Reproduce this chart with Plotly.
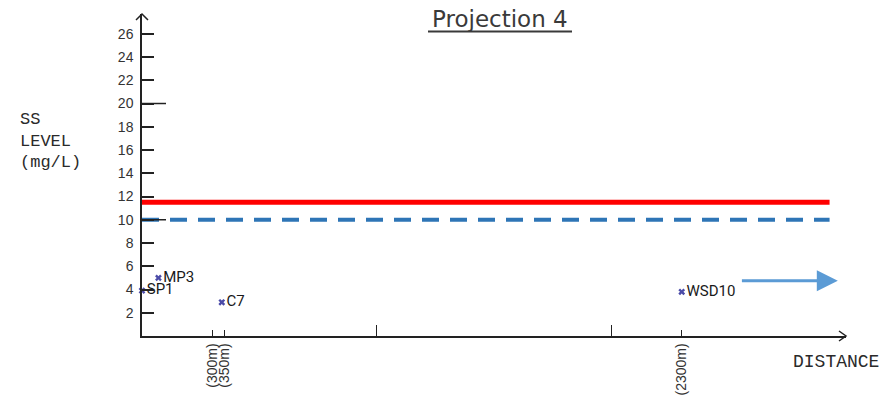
import plotly.graph_objects as go

# ---- data ----
station_names = ["SP1", "MP3", "C7", "WSD10"]
station_distance_m = [0, 70, 340, 2300]
station_ss = [3.9, 5.0, 2.9, 3.8]

red_limit = 11.5          # red solid line level
blue_limit = 10.0         # blue dashed line level
limit_line_end_m = 2930   # where horizontal lines stop

arrow_start_m = 2550
arrow_end_m = 2965
arrow_level = 4.75

y_tick_vals = list(range(2, 27, 2))
y_long_ticks = [10, 20]
x_tick_vals = [300, 350, 2300]
x_tick_text = ["(300m)", "(350m)", "(2300m)"]
x_minor_ticks = [1000, 2000]

X_MAX = 3000
Y_MAX = 27.7

# ---- figure ----
W, H = 893, 399
ML, MR, MT, MB = 142, 47, 14, 63
PW = W - ML - MR
PH = H - MT - MB

fig = go.Figure()

fig.add_trace(go.Scatter(
    x=[0, limit_line_end_m], y=[red_limit, red_limit], mode="lines",
    line=dict(color="#ff0000", width=5), hoverinfo="skip", showlegend=False))
fig.add_trace(go.Scatter(
    x=[0, limit_line_end_m], y=[blue_limit, blue_limit], mode="lines",
    line=dict(color="#2e75b6", width=4, dash="17px,11px"), hoverinfo="skip", showlegend=False))

fig.add_trace(go.Scatter(
    x=station_distance_m, y=station_ss, mode="markers+text",
    text=station_names, textposition="middle right",
    textfont=dict(family="Roboto", size=15, color="#1a1a1a"),
    marker=dict(symbol="x", size=6, color="#4b4ba8"),
    showlegend=False, cliponaxis=False))

ann = []
# blue arrow
ann.append(dict(x=arrow_end_m, y=arrow_level, ax=arrow_start_m, ay=arrow_level,
                xref="x", yref="y", axref="x", ayref="y", text="", showarrow=True,
                arrowhead=2, arrowsize=1.4, arrowwidth=3, arrowcolor="#5b9bd5"))
# title
ann.append(dict(x=(500 - ML) / PW, y=(MT + PH - 19) / PH, xref="paper", yref="paper",
                text="Projection 4", showarrow=False, xanchor="center", yanchor="middle",
                font=dict(family="DejaVu Sans", size=23, color="#3a3a3a")))
# y-axis title lines
for i, line in enumerate(["SS", "LEVEL", "(mg/L)"]):
    cy = [119, 141, 162][i]
    ann.append(dict(x=(18 - ML) / PW, y=(MT + PH - cy) / PH, xref="paper", yref="paper",
                    text=line, showarrow=False, xanchor="left", yanchor="middle",
                    font=dict(family="Liberation Mono", size=17, color="#2a2a2a")))
# x axis title
ann.append(dict(x=(791 - ML) / PW, y=(MT + PH - 362) / PH, xref="paper", yref="paper",
                text="DISTANCE", showarrow=False, xanchor="left", yanchor="middle",
                font=dict(family="Liberation Mono", size=18, color="#2a2a2a")))

shapes = []
# title underline
shapes.append(dict(type="line", xref="paper", yref="paper",
                   x0=(428 - ML) / PW, x1=(572 - ML) / PW,
                   y0=(MT + PH - 31.5) / PH, y1=(MT + PH - 31.5) / PH,
                   line=dict(color="#3a3a3a", width=2)))
# long y ticks
for v in y_long_ticks:
    shapes.append(dict(type="line", xref="paper", yref="y", x0=0, x1=24 / PW, y0=v, y1=v,
                       line=dict(color="#222", width=1.5)))
# axis arrow chevrons
shapes.append(dict(type="path", xref="paper", yref="paper",
                   path=f"M {1 - 7/PW} {5/PH} L 1 0 L {1 - 7/PW} {-5/PH}",
                   line=dict(color="#222", width=1.5)))
shapes.append(dict(type="path", xref="paper", yref="paper",
                   path=f"M {-6/PW} {1 - 6/PH} L 0 1 L {6/PW} {1 - 6/PH}",
                   line=dict(color="#222", width=1.5)))

fig.update_layout(
    width=W, height=H, margin=dict(l=ML, r=MR, t=MT, b=MB, autoexpand=False),
    paper_bgcolor="white", plot_bgcolor="white",
    annotations=ann, shapes=shapes, showlegend=False,
    xaxis=dict(range=[0, X_MAX], showgrid=False, zeroline=False, showline=True,
               linecolor="#222", linewidth=1.5, ticks="inside", ticklen=6,
               tickcolor="#222", tickwidth=1.3, automargin=False,
               tickmode="array", tickvals=x_tick_vals, ticktext=x_tick_text,
               tickangle=-90, tickfont=dict(family="Liberation Sans", size=14, color="#333"),
               minor=dict(tickmode="array", tickvals=x_minor_ticks, ticks="inside",
                          ticklen=11, tickcolor="#222", tickwidth=1.3, showgrid=False),
               fixedrange=True),
    yaxis=dict(range=[0, Y_MAX], showgrid=False, zeroline=False, showline=True,
               linecolor="#222", linewidth=1.5, ticks="inside", ticklen=12,
               tickcolor="#222", tickwidth=1.5, automargin=False,
               tickmode="array", tickvals=y_tick_vals,
               tickfont=dict(family="Liberation Sans", size=14, color="#333"),
               ticklabelstandoff=4, fixedrange=True),
)

fig.write_html("out.html", config={"displayModeBar": False},
               post_script="document.body.style.margin='0';")
